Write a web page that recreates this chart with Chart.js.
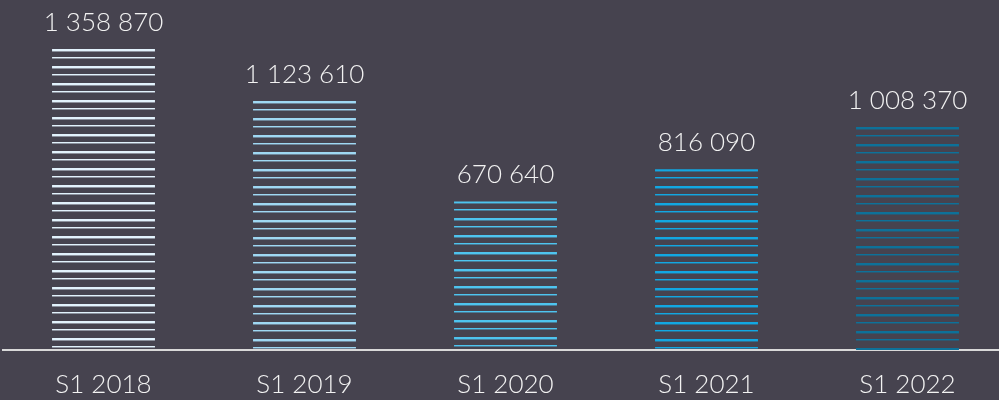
<!DOCTYPE html>
<html>
<head>
<meta charset="utf-8">
<script src="https://cdn.jsdelivr.net/npm/chart.js@4"></script>
<style>
  html, body { margin: 0; padding: 0; background: #46434f; overflow: hidden; }
  #wrap { width: 1008px; height: 400px; position: relative; }
</style>
</head>
<body>
<div id="wrap"><canvas id="c"></canvas></div>
<script>
const categories = ["S1 2018", "S1 2019", "S1 2020", "S1 2021", "S1 2022"];
const values = [1358870, 1123610, 670640, 816090, 1008370];
const valueLabels = ["1 358 870", "1 123 610", "670 640", "816 090", "1 008 370"];
const barColors = ["#e2f2fc", "#9fd8f3", "#4ec4ef", "#12a7e2", "#0d7199"];

const FONT = "Lato, 'Open Sans', sans-serif";
const TEXT = "#f2f2f2";

function makePattern(color) {
  const pc = document.createElement("canvas");
  pc.width = 8; pc.height = 17;
  const g = pc.getContext("2d");
  g.fillStyle = color;
  g.fillRect(0, 0, 8, 2);
  g.globalAlpha = 0.45;
  g.fillRect(0, 2, 8, 1);
  g.globalAlpha = 1;
  g.fillRect(0, 8, 8, 1);
  g.globalAlpha = 0.45;
  g.fillRect(0, 9, 8, 1);
  return document.getElementById("c").getContext("2d").createPattern(pc, "repeat");
}
const patterns = barColors.map(makePattern);

const anchorPatterns = {
  id: "anchorPatterns",
  beforeDatasetsDraw(chart) {
    const meta = chart.getDatasetMeta(0);
    meta.data.forEach((el, i) => {
      const p = patterns[i];
      if (p && p.setTransform) p.setTransform(new DOMMatrix().translate(0, Math.round(el.y)));
    });
  }
};

const valueLabelPlugin = {
  id: "valueLabels",
  afterDatasetsDraw(chart) {
    const ctx = chart.ctx;
    const meta = chart.getDatasetMeta(0);
    ctx.save();
    ctx.font = "300 26px " + FONT;
    ctx.fillStyle = TEXT;
    ctx.textAlign = "center";
    ctx.textBaseline = "alphabetic";
    meta.data.forEach((el, i) => {
      ctx.fillText(valueLabels[i], el.x, el.y - 18);
    });
    ctx.restore();
  }
};

new Chart(document.getElementById("c"), {
  type: "bar",
  data: {
    labels: categories,
    datasets: [{
      data: values,
      backgroundColor: (ctx) => patterns[ctx.dataIndex],
      borderWidth: 0,
      barPercentage: 0.512,
      categoryPercentage: 1
    }]
  },
  options: {
    responsive: true,
    maintainAspectRatio: false,
    animation: false,
    layout: { padding: { left: 3, right: 0, top: 0, bottom: 0 } },
    plugins: { legend: { display: false }, tooltip: { enabled: false } },
    scales: {
      x: {
        afterFit(scale) { scale.height = 50; },
        grid: { display: false, drawTicks: false },
        border: { display: true, color: "#d9d9d9", width: 2 },
        ticks: { color: TEXT, padding: 22, maxRotation: 0, font: { family: FONT, size: 26, weight: 300, lineHeight: 1 } }
      },
      y: {
        display: false,
        min: 0,
        max: 1580000
      }
    }
  },
  plugins: [anchorPatterns, valueLabelPlugin]
});
</script>
</body>
</html>
